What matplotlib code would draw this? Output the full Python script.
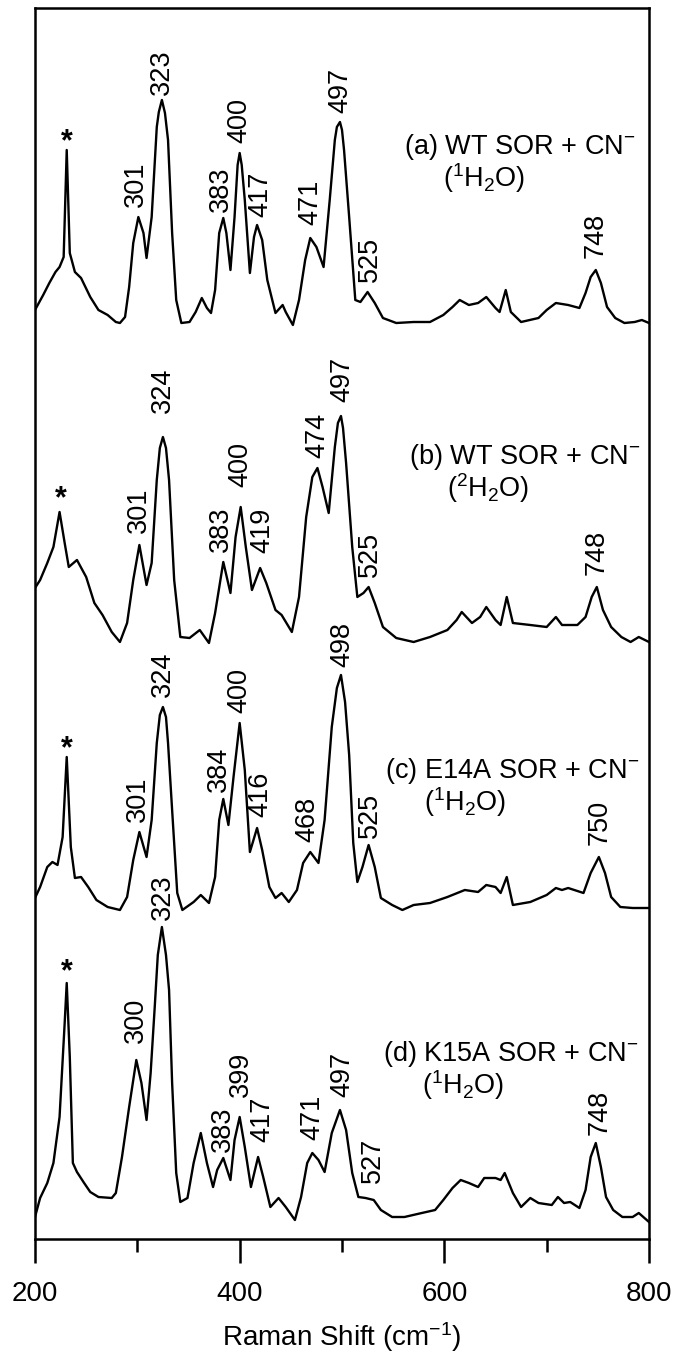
import matplotlib
matplotlib.use("Agg")
import matplotlib.pyplot as plt
from matplotlib.ticker import MultipleLocator

plt.rcParams['font.family'] = ['Liberation Sans', 'DejaVu Sans']
plt.rcParams['mathtext.fontset'] = 'custom'
plt.rcParams['mathtext.rm'] = 'Liberation Sans'
plt.rcParams['mathtext.it'] = 'Liberation Sans:italic'
plt.rcParams['mathtext.default'] = 'regular'

# --- spectra (Raman shift, relative intensity above each trace's baseline) ---
x_a = [200, 208, 214, 220, 224, 228, 231, 234, 239, 245, 254, 262, 271, 279, 283, 288, 292, 296, 301, 306,
       309, 314, 319, 321, 324, 327, 330, 334, 338, 343, 351, 357, 363, 368, 372, 376, 380, 384, 387, 391,
       395, 398, 400, 402, 405, 410, 414, 417, 422, 427, 435, 442, 445, 452, 458, 464, 469, 475, 482, 488,
       493, 495, 498, 500, 502, 507, 513, 518, 525, 532, 540, 553, 570, 586, 599, 608, 615, 624, 633, 641,
       650, 654, 660, 665, 675, 692, 700, 709, 721, 732, 738, 743, 748, 753, 759, 767, 776, 786, 793, 800]
y_a = [15, 30, 42, 53, 58, 68, 175, 72, 53, 47, 28, 15, 10, 3, 2, 8, 38, 82, 108, 92,
       67, 108, 198, 213, 225, 212, 185, 92, 25, 2, 3, 13, 27, 17, 12, 35, 92, 107, 92, 55,
       108, 160, 172, 160, 125, 52, 88, 100, 85, 45, 12, 20, 13, 0, 25, 65, 87, 78, 58, 125,
       185, 198, 203, 195, 175, 108, 25, 23, 33, 22, 7, 2, 3, 3, 10, 18, 25, 20, 22, 28,
       17, 13, 35, 13, 3, 7, 15, 22, 20, 17, 32, 48, 55, 42, 18, 7, 2, 3, 5, 2]

x_b = [200, 205, 212, 218, 224, 229, 233, 241, 250, 258, 266, 275, 283, 290, 296, 302, 309, 314, 319, 322,
       325, 328, 331, 336, 342, 351, 361, 370, 376, 384, 391, 396, 401, 406, 412, 420, 426, 435, 441, 451,
       458, 465, 471, 476, 481, 487, 493, 496, 499, 501, 504, 510, 515, 521, 526, 532, 540, 553, 570, 586,
       603, 612, 617, 627, 635, 641, 650, 655, 661, 667, 684, 700, 709, 715, 730, 738, 744, 749, 755, 763,
       773, 782, 790, 800]
y_b = [55, 63, 80, 96, 131, 100, 76, 83, 66, 40, 28, 11, 1, 20, 63, 98, 58, 80, 163, 195,
       206, 195, 163, 63, 6, 5, 13, 0, 30, 81, 50, 106, 136, 96, 53, 75, 60, 33, 28, 11,
       46, 126, 166, 175, 156, 130, 196, 220, 227, 215, 180, 96, 46, 50, 56, 40, 16, 5, 1, 6,
       13, 23, 31, 20, 26, 36, 23, 18, 46, 20, 18, 16, 26, 18, 18, 26, 46, 56, 33, 16,
       6, 1, 6, 1]

x_c = [200, 205, 212, 217, 222, 227, 231, 235, 239, 245, 252, 260, 271, 283, 290, 296, 302, 309, 314, 319,
       322, 325, 328, 330, 334, 339, 344, 355, 362, 370, 376, 380, 384, 389, 394, 400, 405, 410, 417, 422,
       429, 435, 441, 448, 456, 462, 469, 477, 483, 490, 495, 499, 503, 507, 511, 515, 520, 526, 532, 538,
       549, 559, 570, 586, 603, 620, 633, 641, 650, 655, 661, 667, 684, 700, 709, 715, 721, 736, 743, 751,
       757, 763, 772, 784, 800]
y_c = [12, 23, 43, 48, 45, 73, 153, 63, 32, 33, 23, 10, 3, 0, 13, 50, 78, 53, 90, 167,
       195, 203, 193, 167, 100, 17, 0, 8, 15, 7, 33, 90, 111, 85, 133, 187, 140, 58, 82, 60,
       23, 12, 17, 8, 20, 47, 58, 47, 90, 183, 222, 235, 208, 155, 67, 28, 43, 65, 43, 12,
       5, 0, 5, 7, 13, 20, 18, 25, 23, 17, 33, 5, 8, 15, 22, 20, 22, 17, 37, 53,
       37, 13, 3, 2, 2]

x_d = [200, 205, 212, 218, 224, 229, 231, 234, 237, 241, 248, 254, 262, 275, 279, 285, 292, 299, 304, 309,
       313, 317, 320, 324, 328, 331, 334, 338, 342, 349, 355, 362, 368, 374, 378, 384, 391, 395, 400, 405,
       411, 418, 423, 430, 438, 445, 454, 460, 466, 471, 477, 483, 490, 498, 504, 510, 516, 523, 531, 538,
       549, 561, 578, 591, 599, 608, 616, 624, 633, 639, 650, 655, 659, 667, 675, 684, 692, 705, 711, 717,
       723, 732, 738, 743, 748, 753, 758, 765, 774, 784, 790, 800]
y_d = [5, 24, 39, 59, 105, 199, 239, 165, 59, 50, 39, 30, 25, 24, 29, 65, 115, 162, 139, 102,
       149, 215, 267, 295, 267, 232, 139, 49, 20, 24, 59, 89, 59, 35, 52, 64, 42, 82, 105, 75,
       35, 65, 45, 15, 24, 15, 2, 25, 59, 69, 62, 50, 89, 112, 92, 49, 25, 24, 22, 12,
       5, 5, 9, 12, 22, 34, 42, 39, 35, 44, 44, 42, 49, 29, 15, 24, 19, 17, 25, 19,
       20, 14, 32, 65, 79, 55, 25, 12, 5, 5, 9, 0]

offsets = [914, 596, 329, 17]

# peak labels: (text, x, height of label start above baseline)
peaks_a = [("301", 299, 118), ("323", 324, 230), ("383", 382, 113), ("400", 400, 182), ("417", 420, 108),
           ("471", 469, 100), ("497", 498, 212), ("525", 527, 43), ("748", 748, 67)]
peaks_b = [("301", 302, 110), ("324", 325, 230), ("383", 382, 91), ("400", 401, 156), ("419", 422, 90),
           ("474", 476, 185), ("497", 500, 241), ("525", 527, 66), ("748", 749, 68)]
peaks_c = [("301", 301, 88), ("324", 325, 213), ("384", 380, 118), ("400", 400, 197), ("416", 420, 93),
           ("468", 466, 68), ("498", 500, 243), ("525", 527, 72), ("750", 752, 65)]
peaks_d = [("300", 299, 179), ("323", 325, 302), ("383", 384, 70), ("399", 401, 125), ("417", 422, 80),
           ("471", 471, 82), ("497", 500, 125), ("527", 530, 39), ("748", 752, 87)]

stars = [(231, 192), (225, 153), (231, 170), (231, 259)]

titles = [r"(a) WT SOR + CN$^{-}$", r"(b) WT SOR + CN$^{-}$",
          r"(c) E14A SOR + CN$^{-}$", r"(d) K15A SOR + CN$^{-}$"]
solvents = [r"($^{1}$H$_{2}$O)", r"($^{2}$H$_{2}$O)", r"($^{1}$H$_{2}$O)", r"($^{1}$H$_{2}$O)"]
title_pos = [(561, 178), (565, 186), (542, 139), (540, 168)]
solvent_pos = [(599, 147), (603, 155), (580, 108), (578, 137)]

fig = plt.figure(figsize=(6.75, 13.53), dpi=100)
ax = fig.add_axes([35 / 675, 114 / 1353, 614 / 675, 1231 / 1353])

spectra = [(x_a, y_a, peaks_a), (x_b, y_b, peaks_b), (x_c, y_c, peaks_c), (x_d, y_d, peaks_d)]
for i, (xs, ys, pk) in enumerate(spectra):
    off = offsets[i]
    ax.plot(xs, [v + off for v in ys], color='black', lw=1.7)
    for txt, px, h in pk:
        ax.text(px, h + off, txt, rotation=90, ha='center', va='bottom', fontsize=19.5)
    sx, sh = stars[i]
    ax.text(sx, sh + off - 17, "*", ha='center', va='baseline', fontsize=22, fontweight='bold')
    tx, th = title_pos[i]
    ax.text(tx, th + off, titles[i], ha='left', va='center', fontsize=19.5)
    lx, lh = solvent_pos[i]
    ax.text(lx, lh + off, solvents[i], ha='left', va='center', fontsize=19.5)

ax.set_xlim(200, 800)
ax.set_ylim(0, 1231)
ax.set_yticks([])
ax.xaxis.set_major_locator(MultipleLocator(200))
ax.xaxis.set_minor_locator(MultipleLocator(100))
ax.tick_params(axis='x', which='major', direction='out', length=17, width=1.8, labelsize=20, pad=13)
ax.tick_params(axis='x', which='minor', direction='out', length=9.5, width=1.8)
for sp in ax.spines.values():
    sp.set_linewidth(1.8)

ax.set_xlabel(r"Raman Shift (cm$^{-1}$)", fontsize=20, labelpad=10)

fig.savefig("out.png", dpi=100)
